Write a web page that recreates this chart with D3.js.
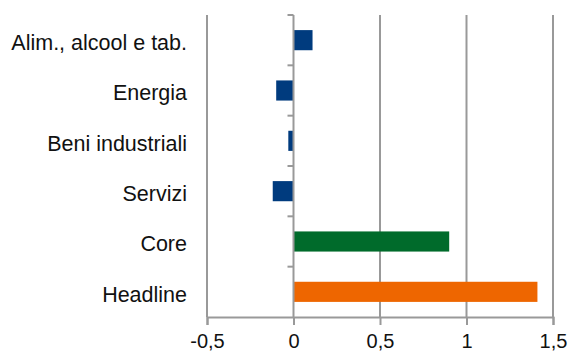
<!DOCTYPE html>
<html>
<head>
<meta charset="utf-8">
<script src="https://cdn.jsdelivr.net/npm/d3@7"></script>
<style>
  body { margin: 0; background: #fff; }
  svg text { font-family: "Liberation Sans", Arial, sans-serif; fill: #111; }
</style>
</head>
<body>
<div id="chart"></div>
<script>
// data
const categories = ["Alim., alcool e tab.", "Energia", "Beni industriali", "Servizi", "Core", "Headline"];
const values = [0.11, -0.1, -0.03, -0.12, 0.9, 1.41];
const barColors = ["#003B7E", "#003B7E", "#003B7E", "#003B7E", "#006B2B", "#EE6600"];
const xTicks = [-0.5, 0, 0.5, 1, 1.5];

const W = 571, H = 354;
const margin = { top: 15, right: 18, bottom: 37, left: 207 };
const width = W - margin.left - margin.right;
const height = H - margin.top - margin.bottom;

const svg = d3.select("#chart").append("svg")
    .attr("width", W)
    .attr("height", H)
    .append("g")
    .attr("transform", `translate(${margin.left},${margin.top})`);

const x = d3.scaleLinear().domain([-0.5, 1.5]).range([0, width]);
const y = d3.scaleBand().domain(categories).range([0, height]).paddingInner(0.6).paddingOuter(0.3);
const yOuter = d3.scaleBand().domain(categories).range([0, height]);

// vertical gridlines (skip zero, the category axis sits there)
svg.selectAll(".grid")
    .data(xTicks.filter(d => d !== 0))
    .enter().append("line")
    .attr("x1", d => x(d)).attr("x2", d => x(d))
    .attr("y1", 0).attr("y2", height)
    .attr("stroke", "#999").attr("stroke-width", 2);

// bars
svg.selectAll(".bar")
    .data(values)
    .enter().append("rect")
    .attr("x", d => x(Math.min(0, d)))
    .attr("width", d => Math.abs(x(d) - x(0)))
    .attr("y", (d, i) => y(categories[i]))
    .attr("height", y.bandwidth())
    .attr("fill", (d, i) => barColors[i]);

// x axis
const xAxis = svg.append("g")
    .attr("transform", `translate(0,${height})`)
    .call(d3.axisBottom(x).tickValues(xTicks).tickSize(8).tickPadding(9)
        .tickFormat(d => String(d).replace(".", ",")));
xAxis.select(".domain").attr("stroke", "#999").attr("stroke-width", 2);
xAxis.selectAll(".tick line").attr("stroke", "#999").attr("stroke-width", 2);
xAxis.selectAll(".tick text").style("font-size", "20px").attr("fill", "#111");

// category axis at zero
const yAxisG = svg.append("g").attr("transform", `translate(${x(0)},0)`);
yAxisG.append("line")
    .attr("y1", 0).attr("y2", height)
    .attr("stroke", "#999").attr("stroke-width", 2);
yAxisG.selectAll(".ytick")
    .data(categories.slice(0, -1).concat(["__top"]))
    .enter().append("line")
    .attr("x1", -6).attr("x2", 0)
    .attr("y1", d => d === "__top" ? 0 : yOuter(d) + yOuter.bandwidth())
    .attr("y2", d => d === "__top" ? 0 : yOuter(d) + yOuter.bandwidth())
    .attr("stroke", "#999").attr("stroke-width", 2);

// category labels
svg.selectAll(".cat")
    .data(categories)
    .enter().append("text")
    .attr("x", -20)
    .attr("y", d => yOuter(d) + yOuter.bandwidth() / 2)
    .attr("dy", "0.45em")
    .attr("text-anchor", "end")
    .style("font-size", "21.5px")
    .text(d => d);
</script>
</body>
</html>
